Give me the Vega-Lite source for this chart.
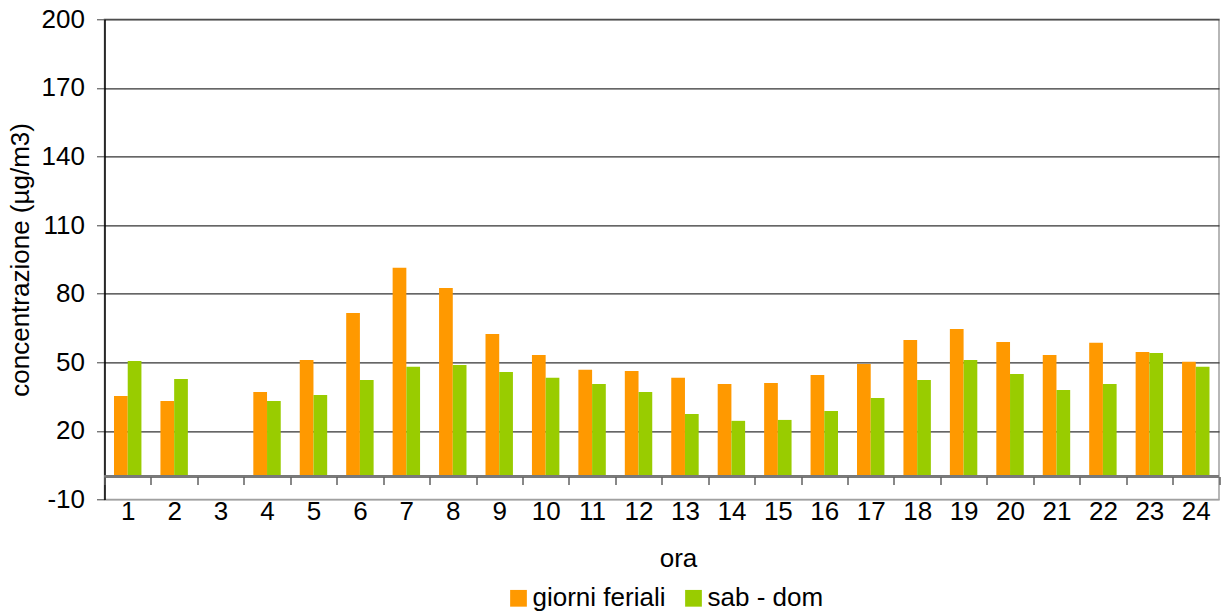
{
  "$schema": "https://vega.github.io/schema/vega-lite/v6.json",
  "autosize": {"type": "none"},
  "width": 1114.5,
  "height": 480.2,
  "padding": {"left": 104.5, "top": 19.3, "right": 2, "bottom": 116.5},
  "background": "white",
  "config": {
    "font": "Liberation Sans",
    "view": {"stroke": "#a0a0a0", "strokeWidth": 1.5}
  },
  "data": {
    "values": [
      {"ora": 1, "serie": "giorni feriali", "valore": 35.3},
      {"ora": 1, "serie": "sab - dom", "valore": 50.6},
      {"ora": 2, "serie": "giorni feriali", "valore": 33.1},
      {"ora": 2, "serie": "sab - dom", "valore": 42.7},
      {"ora": 4, "serie": "giorni feriali", "valore": 37.0},
      {"ora": 4, "serie": "sab - dom", "valore": 33.1},
      {"ora": 5, "serie": "giorni feriali", "valore": 51.0},
      {"ora": 5, "serie": "sab - dom", "valore": 35.7},
      {"ora": 6, "serie": "giorni feriali", "valore": 71.6},
      {"ora": 6, "serie": "sab - dom", "valore": 42.3},
      {"ora": 7, "serie": "giorni feriali", "valore": 91.3},
      {"ora": 7, "serie": "sab - dom", "valore": 48.0},
      {"ora": 8, "serie": "giorni feriali", "valore": 82.5},
      {"ora": 8, "serie": "sab - dom", "valore": 48.8},
      {"ora": 9, "serie": "giorni feriali", "valore": 62.4},
      {"ora": 9, "serie": "sab - dom", "valore": 45.8},
      {"ora": 10, "serie": "giorni feriali", "valore": 53.2},
      {"ora": 10, "serie": "sab - dom", "valore": 43.2},
      {"ora": 11, "serie": "giorni feriali", "valore": 46.7},
      {"ora": 11, "serie": "sab - dom", "valore": 40.5},
      {"ora": 12, "serie": "giorni feriali", "valore": 46.2},
      {"ora": 12, "serie": "sab - dom", "valore": 37.0},
      {"ora": 13, "serie": "giorni feriali", "valore": 43.2},
      {"ora": 13, "serie": "sab - dom", "valore": 27.4},
      {"ora": 14, "serie": "giorni feriali", "valore": 40.5},
      {"ora": 14, "serie": "sab - dom", "valore": 24.4},
      {"ora": 15, "serie": "giorni feriali", "valore": 41.0},
      {"ora": 15, "serie": "sab - dom", "valore": 24.8},
      {"ora": 16, "serie": "giorni feriali", "valore": 44.5},
      {"ora": 16, "serie": "sab - dom", "valore": 28.7},
      {"ora": 17, "serie": "giorni feriali", "valore": 49.3},
      {"ora": 17, "serie": "sab - dom", "valore": 34.4},
      {"ora": 18, "serie": "giorni feriali", "valore": 59.8},
      {"ora": 18, "serie": "sab - dom", "valore": 42.3},
      {"ora": 19, "serie": "giorni feriali", "valore": 64.6},
      {"ora": 19, "serie": "sab - dom", "valore": 51.0},
      {"ora": 20, "serie": "giorni feriali", "valore": 58.9},
      {"ora": 20, "serie": "sab - dom", "valore": 44.9},
      {"ora": 21, "serie": "giorni feriali", "valore": 53.2},
      {"ora": 21, "serie": "sab - dom", "valore": 37.9},
      {"ora": 22, "serie": "giorni feriali", "valore": 58.5},
      {"ora": 22, "serie": "sab - dom", "valore": 40.5},
      {"ora": 23, "serie": "giorni feriali", "valore": 54.5},
      {"ora": 23, "serie": "sab - dom", "valore": 54.1},
      {"ora": 24, "serie": "giorni feriali", "valore": 50.2},
      {"ora": 24, "serie": "sab - dom", "valore": 48.0}
    ]
  },
  "layer": [
    {
      "mark": {"type": "bar"},
      "encoding": {
        "x": {
          "field": "ora",
          "type": "ordinal",
          "scale": {
            "domain": [1,2,3,4,5,6,7,8,9,10,11,12,13,14,15,16,17,18,19,20,21,22,23,24],
            "paddingInner": 0,
            "paddingOuter": 0
          },
          "axis": {
            "title": "ora",
            "titleFontSize": 26,
            "titleFontWeight": "normal",
            "titleColor": "black",
            "titleX": 573.5,
            "titleY": 90,
            "titleAlign": "center",
            "titleBaseline": "alphabetic",
            "labelAngle": 0,
            "labelFontSize": 26,
            "labelColor": "black",
            "labelPadding": 14,
            "tickBand": "extent",
            "tickSize": 8,
            "tickColor": "#606060",
            "tickWidth": 1.5,
            "domain": false,
            "offset": -22.9,
            "zindex": 1
          }
        },
        "xOffset": {
          "field": "serie",
          "type": "nominal",
          "sort": ["giorni feriali", "sab - dom"],
          "scale": {"paddingInner": 0, "paddingOuter": 0.693}
        },
        "y": {
          "field": "valore",
          "type": "quantitative",
          "scale": {"domain": [-10, 200], "nice": false, "zero": false},
          "axis": {
            "title": "concentrazione (µg/m3)",
            "titleFontSize": 26,
            "titleFontWeight": "normal",
            "titleColor": "black",
            "titlePadding": 8,
            "values": [-10, 20, 50, 80, 110, 140, 170, 200],
            "labelExpr": "datum.value < 0 ? '-' + abs(datum.value) : '' + datum.value",
            "labelFontSize": 26,
            "labelColor": "black",
            "labelPadding": 12,
            "tickSize": 8,
            "tickColor": "#404040",
            "domainColor": "black",
            "domainWidth": 1.5,
            "gridColor": {"condition": {"test": "datum.value === -10", "value": "#a0a0a0"}, "value": "#333333"},
            "gridWidth": 1.3
          }
        },
        "y2": {"datum": 0},
        "color": {
          "field": "serie",
          "type": "nominal",
          "sort": ["giorni feriali", "sab - dom"],
          "scale": {"domain": ["giorni feriali", "sab - dom"], "range": ["#FF9900", "#99CC00"]},
          "legend": {
            "title": null,
            "orient": "none",
            "direction": "horizontal",
            "legendX": 401,
            "legendY": 566,
            "symbolType": "square",
            "symbolSize": 280,
            "symbolStrokeWidth": 0,
            "labelFontSize": 26,
            "labelColor": "black",
            "labelOffset": 1,
            "columnPadding": 15
          }
        }
      }
    },
    {
      "mark": {"type": "rule", "color": "#7a7a7a", "strokeWidth": 2},
      "encoding": {"y": {"datum": 0}}
    }
  ]
}
